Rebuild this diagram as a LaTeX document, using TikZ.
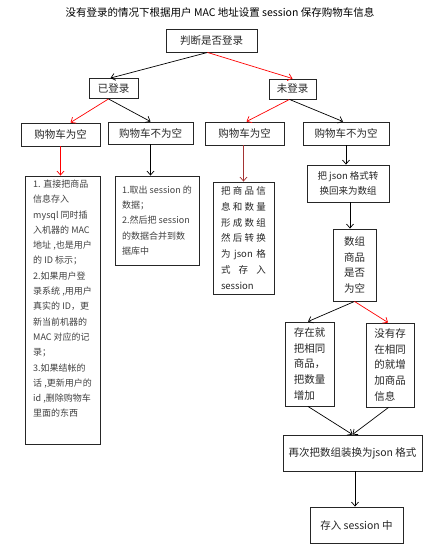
\documentclass[tikz,border=0pt]{standalone}
\usepackage{fontspec}
\setmainfont{Noto Sans CJK SC}
\usetikzlibrary{positioning, arrows.meta, calc}

\newcommand{\spread}[2]{\makebox[#1][s]{#2}}

\begin{document}
\begin{tikzpicture}[
    x=1pt, y=-1pt,
    box/.style={draw=black!85, line width=0.9pt, inner sep=2pt, align=center,
                text=black!85, font=\fontsize{10.5}{15.7}\selectfont},
    note/.style={box, align=left, text=black!75, font=\fontsize{9}{15.3}\selectfont},
    arrow/.style={-{Straight Barb[length=4pt,width=7pt]}, line width=0.7pt},
    redarrow/.style={arrow, red},
    brownarrow/.style={arrow, red!55!black!80},
]
\useasboundingbox (0,0) rectangle (442,548);

\node[font=\fontsize{10.5}{12}\selectfont] (title) at (220,12) {没有登录的情况下根据用户 MAC 地址设置 session 保存购物车信息};

\node[box, minimum width=91pt, minimum height=23pt] (judge) at (211.5,40.5) {判断是否登录};
\node[box, minimum width=49pt, minimum height=20pt] (login) at (113.5,88.5) {已登录};
\node[box, minimum width=47pt, minimum height=20pt] (nologin) at (292.5,89) {未登录};

\node[box, minimum width=79pt, minimum height=23pt] (emptyA) at (60.5,134.5) {购物车为空};
\node[box, minimum width=85pt, minimum height=22pt] (fullA) at (150.5,133) {购物车不为空};
\node[box, minimum width=79pt, minimum height=23pt] (emptyB) at (244.5,133.5) {购物车为空};
\node[box, minimum width=86pt, minimum height=23pt] (fullB) at (346,133.5) {购物车不为空};

% logged in, nothing in the cart
\node[note, minimum width=75pt, minimum height=268pt] (stepA) at (62.5,310) {%
1. 直接把商品\\信息存入\\mysql 同时插\\入机器的 MAC\\地址 ,也是用户\\的 ID 标示；\\%
2.如果用户登\\录系统 ,用用户\\真实的 ID，更\\新当前机器的\\MAC 对应的记\\录；\\%
3.如果结帐的\\话 ,更新用户的\\id ,删除购物车\\里面的东西\\[8pt]};
\node[note, minimum width=84pt, minimum height=89pt] (mergeA) at (157,220.5) {%
1.取出 session 的\\数据；\\2.然后把 session\\的数据合并到数\\据库中};

% not logged in
\node[note, text=black!85, font=\fontsize{9.5}{15.7}\selectfont, minimum width=61pt, minimum height=112pt] (saveB) at (243.5,238) {%
\spread{45pt}{把 商 品 信}\\\spread{45pt}{息 和 数 量}\\\spread{45pt}{形 成 数 组}\\%
\spread{45pt}{然 后 转 换}\\\spread{45pt}{为 json 格}\\\spread{45pt}{式 存 入}\\session};
\node[box, font=\fontsize{9.5}{15}\selectfont, minimum width=82pt, minimum height=37pt] (convert) at (348,183.5) {把 json 格式转\\换回来为数组};
\node[box, minimum width=43pt, minimum height=72pt] (check) at (354.5,265) {数组\\商品\\是否\\为空};
\node[box, align=left, minimum width=49pt, minimum height=84pt] (exist) at (309.5,364) {存在就\\把相同\\商品，\\把数量\\增加};
\node[box, align=left, minimum width=48pt, minimum height=84pt] (notexist) at (390,365) {没有存\\在相同\\的就增\\加商品\\信息};
\node[box, minimum width=139pt, minimum height=36pt] (rejson) at (352.5,453) {再次把数组装换为json 格式};
\node[box, minimum width=93pt, minimum height=36pt] (store) at (356.5,525) {存入 session 中};

% top levels
\draw[arrow] ([xshift=-4pt]judge.south) -- ([xshift=-3pt]login.north);
\draw[redarrow] ([xshift=-4pt]judge.south) -- (nologin.north);
\draw[redarrow] ([xshift=-5pt]login.south) -- ([xshift=10pt]emptyA.north);
\draw[arrow] ([xshift=-5pt]login.south) -- (fullA.north);
\draw[redarrow] ([xshift=-3pt]nologin.south) -- ([xshift=2pt]emptyB.north);
\draw[arrow] ([xshift=-3pt]nologin.south) -- ([xshift=-3pt]fullB.north);

% straight down
\draw[redarrow] (emptyA.south) -- (emptyA.south |- stepA.north);
\draw[arrow] (fullA.south) -- (fullA.south |- mergeA.north);
\draw[brownarrow] ([xshift=-1pt]emptyB.south) -- ([xshift=-1pt]emptyB.south |- saveB.north);
\draw[arrow] (fullB.south) -- (fullB.south |- convert.north);
\draw[arrow] ([xshift=2pt]convert.south) -- ([xshift=2pt]convert.south |- check.north);

% merge of the two cases
\draw[arrow] (check.south) -- ([xshift=-1.5pt]exist.north);
\draw[redarrow] (check.south) -- ([xshift=-2pt]notexist.north);
\foreach \a in {exist, notexist}{
    \draw[arrow] ([xshift=-1.5pt]\a.south) -- (rejson.north);
}
\draw[arrow] ([xshift=2.5pt]rejson.south) -- ([xshift=2.5pt]rejson.south |- store.north);

\end{tikzpicture}
\end{document}
